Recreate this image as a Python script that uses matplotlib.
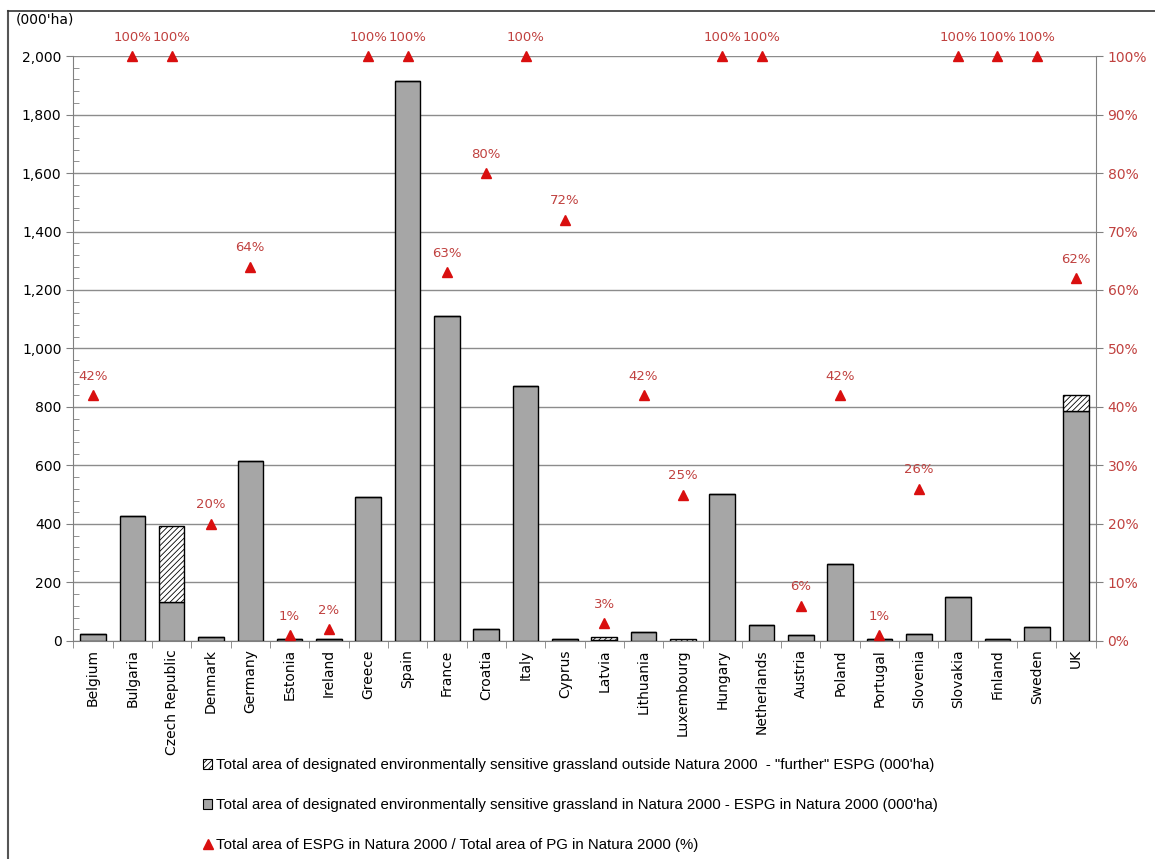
import numpy as np
import matplotlib
matplotlib.use("Agg")
import matplotlib.pyplot as plt
from matplotlib.patches import Patch
from matplotlib.lines import Line2D
from matplotlib.ticker import MultipleLocator, FuncFormatter, FixedLocator

countries = ["Belgium", "Bulgaria", "Czech Republic", "Denmark", "Germany", "Estonia",
             "Ireland", "Greece", "Spain", "France", "Croatia", "Italy", "Cyprus", "Latvia",
             "Lithuania", "Luxembourg", "Hungary", "Netherlands", "Austria", "Poland",
             "Portugal", "Slovenia", "Slovakia", "Finland", "Sweden", "UK"]
# ESPG inside Natura 2000 (000'ha)
espg_in = [23, 427, 133, 12, 615, 8, 8, 492, 1915, 1111, 40, 872, 8, 2, 32, 1,
           502, 54, 19, 262, 8, 23, 149, 8, 47, 787]
# "further" ESPG outside Natura 2000 (000'ha)
espg_out = [0, 0, 259, 0, 0, 0, 0, 0, 0, 0, 0, 0, 0, 10, 0, 7,
            0, 0, 0, 0, 0, 0, 0, 0, 0, 54]
# share of ESPG in total PG within Natura 2000 (%)
share = [42, 100, 100, 20, 64, 1, 2, 100, 100, 63, 80, 100, 72, 3, 42, 25,
         100, 100, 6, 42, 1, 26, 100, 100, 100, 62]

red_txt = "#c0413f"
red_mk = "#d90f0f"
plt.rcParams["hatch.linewidth"] = 0.6

fig = plt.figure(figsize=(11.55, 8.59), dpi=100)
ax = fig.add_axes([0.0635, 0.2538, 0.8852, 0.681])
x = np.arange(len(countries))

ax.bar(x, espg_in, width=0.65, color="#a6a6a6", edgecolor="black", linewidth=1, zorder=3)
ax.bar(x, espg_out, width=0.65, bottom=espg_in, color="white", edgecolor="black",
       hatch="//////", linewidth=1, zorder=3)

ax.set_xlim(-0.5, len(countries) - 0.5)
ax.set_ylim(0, 2000)
ax.yaxis.set_major_locator(MultipleLocator(200))
ax.yaxis.set_minor_locator(MultipleLocator(40))
ax.yaxis.set_major_formatter(FuncFormatter(lambda v, p: f"{int(v):,}"))
ax.grid(axis="y", color="#8c8c8c", linewidth=1, zorder=0)
ax.tick_params(axis="y", which="major", direction="out", length=5, color="#808080",
               labelsize=10)
ax.tick_params(axis="y", which="minor", direction="in", length=4, color="#808080")

ax.set_xticks(x)
ax.set_xticklabels(countries, rotation=90, fontsize=10)
ax.tick_params(axis="x", which="major", length=0, pad=6)
ax.xaxis.set_minor_locator(FixedLocator(np.arange(-0.5, len(countries), 1)))
ax.tick_params(axis="x", which="minor", direction="out", length=5, color="#808080")

for s in ["left", "bottom", "right"]:
    ax.spines[s].set_color("#808080")
ax.spines["top"].set_visible(False)

ax2 = ax.twinx()
ax2.set_ylim(0, 100)
ax2.yaxis.set_major_locator(MultipleLocator(10))
ax2.yaxis.set_major_formatter(FuncFormatter(lambda v, p: f"{int(v)}%"))
ax2.tick_params(axis="y", direction="out", length=5, color="#808080",
                labelcolor=red_txt, labelsize=10)
for s in ["left", "bottom", "right", "top"]:
    ax2.spines[s].set_visible(False)
ax2.plot(x, share, linestyle="none", marker="^", markersize=7, color=red_mk,
         zorder=5, clip_on=False)
for xi, v in zip(x, share):
    ax2.annotate(f"{v}%", (xi, v), xytext=(0, 9), textcoords="offset points",
                 ha="center", va="bottom", color=red_txt, fontsize=9.5,
                 annotation_clip=False)

fig.text(0.039, 0.977, "(000'ha)", ha="center", va="center", fontsize=10)

handles = [
    Patch(facecolor="white", edgecolor="black", hatch="//////", linewidth=0.8),
    Patch(facecolor="#a6a6a6", edgecolor="black", linewidth=0.8),
    Line2D([], [], linestyle="none", marker="^", markersize=7, color=red_mk),
]
labels = [
    "Total area of designated environmentally sensitive grassland outside Natura 2000  - \"further\" ESPG (000'ha)",
    "Total area of designated environmentally sensitive grassland in Natura 2000 - ESPG in Natura 2000 (000'ha)",
    "Total area of ESPG in Natura 2000 / Total area of PG in Natura 2000 (%)",
]
fig.legend(handles, labels, loc="upper left", bbox_to_anchor=(0.169, 0.126),
           frameon=False, labelspacing=1.73, handlelength=0.65,
           handleheight=0.65, handletextpad=0.25, borderpad=0,
           prop={"family": ["Liberation Sans", "DejaVu Sans"], "size": 10.8})

# outer frame of the chart
fig.add_artist(Line2D([0.007, 0.007], [0, 0.987], transform=fig.transFigure,
                      color="#555555", linewidth=1.5))
fig.add_artist(Line2D([0.007, 1], [0.987, 0.987], transform=fig.transFigure,
                      color="#333333", linewidth=1.2))

fig.savefig("out.png", dpi=100)
